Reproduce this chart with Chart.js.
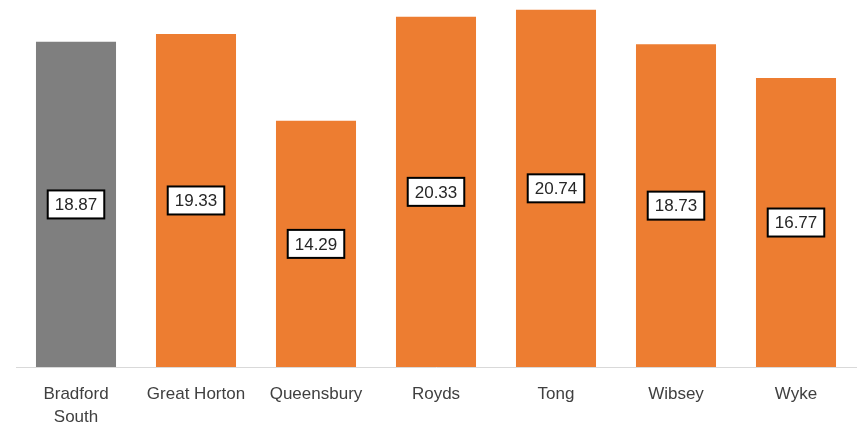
<!DOCTYPE html>
<html>
<head>
<meta charset="utf-8">
<script src="https://cdn.jsdelivr.net/npm/chart.js@4"></script>
<style>
  html, body { margin: 0; padding: 0; background: #fff; }
  #wrap { width: 860px; height: 426px; }
</style>
</head>
<body>
<div id="wrap"><canvas id="chart" width="860" height="426"></canvas></div>
<script>
// ward names and rates
const wards = [['Bradford', 'South'], 'Great Horton', 'Queensbury', 'Royds', 'Tong', 'Wibsey', 'Wyke'];
const rates = [18.87, 19.33, 14.29, 20.33, 20.74, 18.73, 16.77];
const barColours = ['#7f7f7f', '#ed7d31', '#ed7d31', '#ed7d31', '#ed7d31', '#ed7d31', '#ed7d31'];

// boxed value labels in the middle of each bar
const boxLabels = {
    id: 'boxLabels',
    afterDatasetsDraw(chart) {
        const ctx = chart.ctx;
        const meta = chart.getDatasetMeta(0);
        ctx.save();
        ctx.font = '17px "Liberation Sans", Arial, sans-serif';
        ctx.textAlign = 'center';
        ctx.textBaseline = 'middle';
        meta.data.forEach((bar, i) => {
            const txt = rates[i].toFixed(2);
            const cy = (bar.y + bar.base) / 2;
            const w = ctx.measureText(txt).width + 14;
            const h = 28;
            ctx.fillStyle = '#ffffff';
            ctx.fillRect(bar.x - w / 2, cy - h / 2, w, h);
            ctx.lineWidth = 2;
            ctx.strokeStyle = '#000000';
            ctx.strokeRect(bar.x - w / 2, cy - h / 2, w, h);
            ctx.fillStyle = '#262626';
            ctx.fillText(txt, bar.x, cy + 1);
        });
        ctx.restore();
    }
};

new Chart(document.getElementById('chart'), {
    type: 'bar',
    data: {
        labels: wards,
        datasets: [{
            data: rates,
            backgroundColor: barColours,
            borderWidth: 0,
            barPercentage: 0.667,
            categoryPercentage: 1.0
        }]
    },
    options: {
        responsive: false,
        animation: false,
        layout: { padding: { left: 16, right: 4, top: 0, bottom: 0 } },
        plugins: {
            legend: { display: false },
            tooltip: { enabled: false }
        },
        scales: {
            x: {
                grid: { display: false },
                border: { display: true, color: '#d9d9d9', width: 1 },
                ticks: {
                    color: '#404040',
                    font: { family: '"Liberation Sans", Arial, sans-serif', size: 17, lineHeight: 1.35 },
                    padding: 8,
                    maxRotation: 0,
                    autoSkip: false
                },
                afterFit(scale) { scale.height = 59; }
            },
            y: {
                display: false,
                min: 0,
                max: 21.3
            }
        }
    },
    plugins: [boxLabels]
});
</script>
</body>
</html>
